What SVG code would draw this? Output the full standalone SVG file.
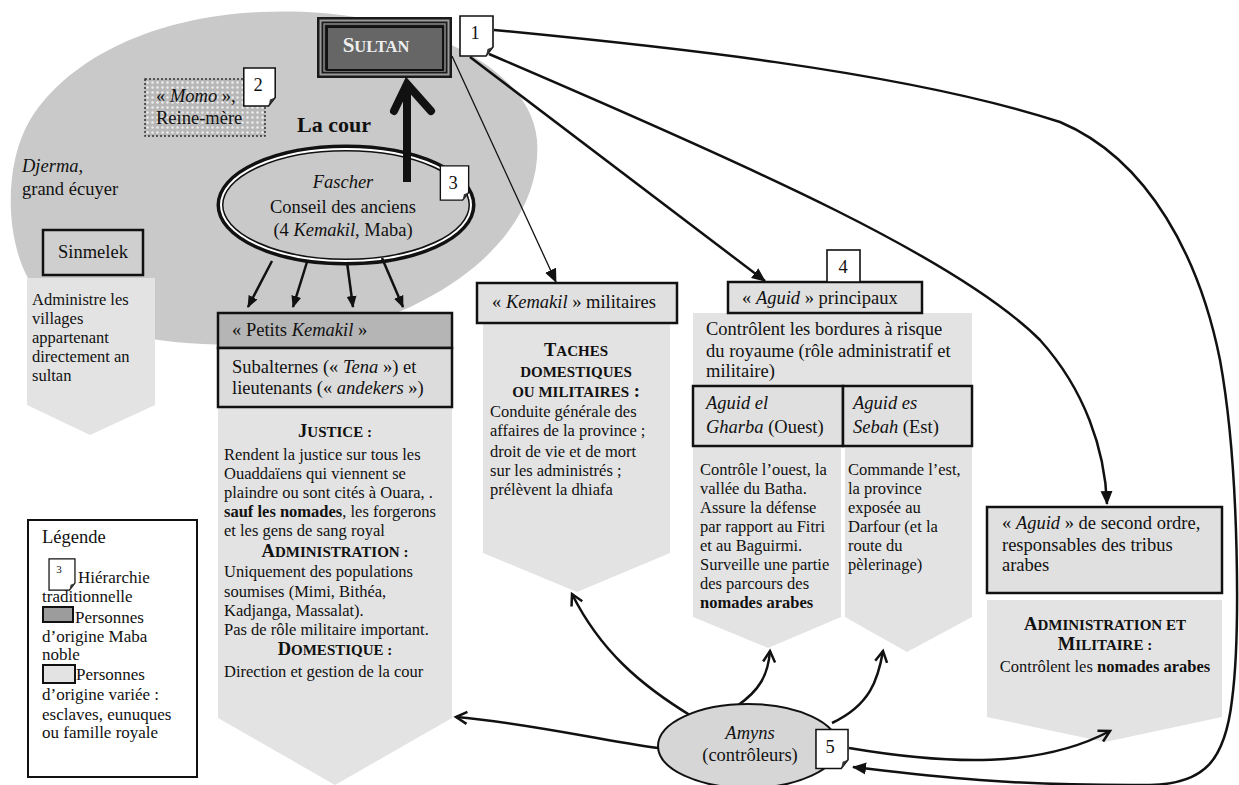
<svg xmlns="http://www.w3.org/2000/svg" xmlns:xlink="http://www.w3.org/1999/xlink" width="1239" height="785" viewBox="0 0 1239 785" font-family="'Liberation Serif', Tinos, 'Times New Roman', serif">
<defs>
<style>
text{font-family:'Liberation Serif',Tinos,'Times New Roman',serif;fill:#111;}
.t15{font-size:16.5px;}
.t16{font-size:18px;}
.t17{font-size:18.5px;}
.lg{font-size:17px;}
.it{font-style:italic;}
.b{font-weight:bold;}
.mid{text-anchor:middle;}
.cap{font-size:18.5px;font-weight:bold;}
.sc{font-size:15px;}
.box{stroke:#111;stroke-width:2.5;}
.chev{fill:#e3e3e3;}
.conn{fill:none;stroke:#111;}
</style>
<pattern id="dots" width="5" height="5" patternUnits="userSpaceOnUse">
<rect width="5" height="5" fill="#b8b8b8"/>
<circle cx="2.5" cy="2.5" r="1.2" fill="#efefef"/>
</pattern>
<marker id="tri" viewBox="0 0 14 14" refX="13" refY="7" markerWidth="14" markerHeight="14" markerUnits="userSpaceOnUse" orient="auto">
<path d="M0,1 L14,7 L0,13 Z" fill="#111"/>
</marker>
<marker id="tris" viewBox="0 0 12 12" refX="11" refY="6" markerWidth="12" markerHeight="12" markerUnits="userSpaceOnUse" orient="auto">
<path d="M0,1 L12,6 L0,11 Z" fill="#111"/>
</marker>
<marker id="vee" viewBox="0 0 16 16" refX="13" refY="8" markerWidth="16" markerHeight="16" markerUnits="userSpaceOnUse" orient="auto">
<path d="M2,2 L13,8 L2,14" fill="none" stroke="#111" stroke-width="2.5" stroke-linejoin="miter"/>
</marker>
<symbol id="note" viewBox="0 0 35 42">
<path d="M1,1 H34 V32 L27,41 H1 Z" fill="#fff" stroke="#111" stroke-width="1.6"/>
<path d="M27,41 L28.5,34 L34,32 Z" fill="#333"/>
</symbol>
</defs>

<rect width="1239" height="785" fill="#fff"/>

<g id="court">
<path d="M260,12 C400,5 530,60 537,140 C543,220 470,300 330,335 C250,352 110,350 45,300 C5,265 0,170 30,120 C70,55 160,16 260,12 Z" fill="#c9c9c9"/>
<text class="b" x="297" y="132" style="font-size:22px">La cour</text>
</g>

<g id="djerma">
<text class="t17" x="22" y="172"><tspan class="it">Djerma</tspan>,</text>
<text class="t17" x="22" y="195">grand écuyer</text>
</g>

<g id="momo">
<rect x="145" y="79" width="120" height="57" fill="url(#dots)" stroke="#333" stroke-width="1.5" stroke-dasharray="2,2"/>
<text class="t17" x="156" y="102">« <tspan class="it">Momo</tspan> »,</text>
<text class="t17" x="156" y="124">Reine-mère</text>
</g>

<g id="sinmelek">
<path class="chev" d="M27,278 H155 V405 L90,435 L27,405 Z"/>
<rect class="box" x="43" y="230" width="100" height="45" fill="#cfcfcf"/>
<text class="t17 mid" x="93" y="258">Sinmelek</text>
<text class="t15" x="32" y="305">Administre les</text>
<text class="t15" x="32" y="324">villages</text>
<text class="t15" x="32" y="343">appartenant</text>
<text class="t15" x="32" y="362">directement an</text>
<text class="t15" x="32" y="381">sultan</text>
</g>

<g id="fascher">
<ellipse cx="346" cy="205" rx="126" ry="57" fill="#c9c9c9" stroke="#111" stroke-width="7"/>
<ellipse cx="346" cy="205" rx="125" ry="56" fill="none" stroke="#fff" stroke-width="2"/>
<text class="t17 it mid" x="343" y="188">Fascher</text>
<text class="t17 mid" x="343" y="213">Conseil des anciens</text>
<text class="t17 mid" x="343" y="236">(4 <tspan class="it">Kemakil</tspan>, Maba)</text>
</g>

<g id="sultan">
<rect x="317" y="17" width="135" height="61" fill="#1a1a1a"/>
<rect x="320.5" y="20.5" width="128" height="54" fill="none" stroke="#9a9a9a" stroke-width="2"/>
<rect x="324" y="24" width="121" height="47" fill="none" stroke="#888" stroke-width="1.5"/>
<rect x="327" y="27" width="116" height="43" fill="#666" stroke="#111" stroke-width="2"/>
<text class="b mid" x="376" y="52" style="fill:#eee;font-size:21px">S<tspan style="font-size:16.5px">ULTAN</tspan></text>
</g>

<g id="petits-kemakil">
<path class="chev" d="M218,407 H452 V718 L335,785 L218,718 Z"/>
<rect class="box" x="218" y="313" width="234" height="35" fill="#b5b5b5"/>
<rect class="box" x="218" y="348" width="234" height="59" fill="#dcdcdc"/>
<text class="t17" x="232" y="336">« Petits <tspan class="it">Kemakil</tspan> »</text>
<text class="t17" x="232" y="373">Subalternes (« <tspan class="it">Tena</tspan> ») et</text>
<text class="t17" x="232" y="394">lieutenants (« <tspan class="it">andekers</tspan> »)</text>
<text class="cap mid" x="335" y="437">J<tspan class="sc">USTICE :</tspan></text>
<text class="t15" x="224" y="460">Rendent la justice sur tous les</text>
<text class="t15" x="224" y="479">Ouaddaïens qui viennent se</text>
<text class="t15" x="224" y="498">plaindre ou sont cités à Ouara, .</text>
<text class="t15" x="224" y="517"><tspan class="b">sauf les nomades</tspan>, les forgerons</text>
<text class="t15" x="224" y="536">et les gens de sang royal</text>
<text class="cap mid" x="335" y="557">A<tspan class="sc">DMINISTRATION :</tspan></text>
<text class="t15" x="224" y="577">Uniquement des populations</text>
<text class="t15" x="224" y="597">soumises (Mimi, Bithéa,</text>
<text class="t15" x="224" y="616">Kadjanga, Massalat).</text>
<text class="t15" x="224" y="635">Pas de rôle militaire important.</text>
<text class="cap mid" x="335" y="655">D<tspan class="sc">OMESTIQUE :</tspan></text>
<text class="t15" x="224" y="677">Direction et gestion de la cour</text>
</g>

<g id="legend">
<rect x="28" y="520" width="169" height="257" fill="#fff" stroke="#111" stroke-width="2"/>
<text class="t17" x="42" y="543">Légende</text>
<use href="#note" x="47" y="558" width="30" height="33"/>
<text class="mid" x="59" y="573" style="font-size:11px">3</text>
<text class="lg" x="78" y="583">Hiérarchie</text>
<text class="lg" x="42" y="602">traditionnelle</text>
<rect x="43" y="607" width="30" height="15" fill="#9c9c9c" stroke="#111" stroke-width="2"/>
<text class="lg" x="75" y="623">Personnes</text>
<text class="lg" x="42" y="642">d’origine Maba</text>
<text class="lg" x="42" y="660">noble</text>
<rect x="43" y="665" width="32" height="18" fill="#e3e3e3" stroke="#111" stroke-width="2"/>
<text class="lg" x="76" y="680">Personnes</text>
<text class="lg" x="42" y="700">d’origine variée :</text>
<text class="lg" x="42" y="720">esclaves, eunuques</text>
<text class="lg" x="42" y="738">ou famille royale</text>
</g>

<g id="kemakil-militaires">
<path class="chev" d="M483,323 H670 V553 L577,592 L483,553 Z"/>
<rect class="box" x="477" y="283" width="200" height="40" fill="#e0e0e0"/>
<text class="t17" x="492" y="308">« <tspan class="it">Kemakil</tspan> » militaires</text>
<text class="cap mid" x="576" y="356">T<tspan class="sc">ACHES</tspan></text>
<text class="b mid sc" x="576" y="377">DOMESTIQUES</text>
<text class="b mid sc" x="576" y="397">OU MILITAIRES<tspan style="font-size:18.5px"> :</tspan></text>
<text class="t15" x="490" y="417">Conduite générale des</text>
<text class="t15" x="490" y="436">affaires de la province ;</text>
<text class="t15" x="490" y="457">droit de vie et de mort</text>
<text class="t15" x="490" y="476">sur les administrés ;</text>
<text class="t15" x="490" y="495">prélèvent la dhiafa</text>
</g>

<g id="aguid-principaux">
<rect class="chev" x="693" y="313" width="279" height="73"/>
<rect class="box" x="728" y="282" width="194" height="31" fill="#e0e0e0"/>
<text class="t17" x="742" y="304">« <tspan class="it">Aguid</tspan> » principaux</text>
<text class="t17" x="706" y="335">Contrôlent les bordures à risque</text>
<text class="t17" x="706" y="357">du royaume (rôle administratif et</text>
<text class="t17" x="706" y="377">militaire)</text>
</g>

<g id="aguid-gharba">
<path class="chev" d="M693,446 H841 V617 L768,648 L693,617 Z"/>
<rect class="box" x="693" y="386" width="150" height="60" fill="#e0e0e0"/>
<text class="t17 it" x="706" y="409">Aguid el</text>
<text class="t17" x="706" y="433"><tspan class="it">Gharba</tspan> (Ouest)</text>
<text class="t15" x="700" y="475">Contrôle l’ouest, la</text>
<text class="t15" x="700" y="494">vallée du Batha.</text>
<text class="t15" x="700" y="513">Assure la défense</text>
<text class="t15" x="700" y="532">par rapport au Fitri</text>
<text class="t15" x="700" y="551">et au Baguirmi.</text>
<text class="t15" x="700" y="570">Surveille une partie</text>
<text class="t15" x="700" y="589">des parcours des</text>
<text class="t15 b" x="700" y="608">nomades arabes</text>
</g>

<g id="aguid-sebah">
<path class="chev" d="M845,446 H972 V617 L907,652 L845,617 Z"/>
<rect class="box" x="843" y="386" width="129" height="60" fill="#e0e0e0"/>
<text class="t17 it" x="853" y="409">Aguid es</text>
<text class="t17" x="853" y="433"><tspan class="it">Sebah</tspan> (Est)</text>
<text class="t15" x="848" y="475">Commande l’est,</text>
<text class="t15" x="848" y="494">la province</text>
<text class="t15" x="848" y="513">exposée au</text>
<text class="t15" x="848" y="532">Darfour (et la</text>
<text class="t15" x="848" y="551">route du</text>
<text class="t15" x="848" y="570">pèlerinage)</text>
</g>

<g id="aguid-second">
<path class="chev" d="M987,600 H1222 V717 L1105,742 L987,717 Z"/>
<rect class="box" x="987" y="507" width="235" height="86" fill="#e0e0e0"/>
<text class="t17" x="1002" y="529">« <tspan class="it">Aguid</tspan> » de second ordre,</text>
<text class="t17" x="1002" y="551">responsables des tribus</text>
<text class="t17" x="1002" y="571">arabes</text>
<text class="cap mid" x="1105" y="630">A<tspan class="sc">DMINISTRATION ET</tspan></text>
<text class="cap mid" x="1105" y="650">M<tspan class="sc">ILITAIRE :</tspan></text>
<text class="t15 mid" x="1105" y="672">Contrôlent les <tspan class="b">nomades arabes</tspan></text>
</g>

<g id="connectors">
<path class="conn" d="M407,182 V86" stroke-width="8"/>
<path class="conn" d="M394,111 L407,84 L431,111" stroke-width="8" stroke-linecap="round" stroke-linejoin="miter"/>
<path class="conn" d="M272,261 L248,307" stroke-width="2.5" marker-end="url(#tris)"/>
<path class="conn" d="M307,262 L293,307" stroke-width="2.5" marker-end="url(#tris)"/>
<path class="conn" d="M347,262 L353,307" stroke-width="2.5" marker-end="url(#tris)"/>
<path class="conn" d="M382,258 L403,307" stroke-width="2.5" marker-end="url(#tris)"/>
<path class="conn" d="M452,56 L556,282" stroke-width="1.3" marker-end="url(#tri)"/>
<path class="conn" d="M470,57 L765,281" stroke-width="2.5" marker-end="url(#tri)"/>
<path class="conn" d="M489,54 C760,170 960,260 1040,340 C1085,390 1105,450 1107,504" stroke-width="2.5" marker-end="url(#tri)"/>
<path class="conn" d="M494,30 C650,45 900,70 1060,122 C1150,160 1200,260 1220,360 C1240,470 1240,640 1232,700 C1225,760 1205,784 1150,785 C1000,786 920,775 853,767" stroke-width="2.5" marker-end="url(#tri)"/>
<path class="conn" d="M658,748 C600,740 520,722 456,717" stroke-width="2.5" marker-end="url(#vee)"/>
<path class="conn" d="M693,717 C640,685 600,650 572,594" stroke-width="2.5" marker-end="url(#vee)"/>
<path class="conn" d="M737,706 C760,690 768,675 770,651" stroke-width="2.5" marker-end="url(#vee)"/>
<path class="conn" d="M832,723 C870,705 878,680 883,651" stroke-width="2.5" marker-end="url(#vee)"/>
<path class="conn" d="M849,748 C950,765 1040,768 1110,731" stroke-width="2.5" marker-end="url(#vee)"/>
</g>

<g id="amyns">
<ellipse cx="748" cy="746" rx="90" ry="42" fill="#d6d6d6" stroke="#111" stroke-width="2"/>
<text class="t17 it mid" x="750" y="739">Amyns</text>
<text class="t17 mid" x="750" y="761">(contrôleurs)</text>
</g>

<g id="note-1">
<use href="#note" x="459" y="15" width="35" height="42"/>
<text class="t17 mid" x="475" y="39">1</text>
</g>
<g id="note-2">
<use href="#note" x="242" y="67" width="35" height="40"/>
<text class="t17 mid" x="258" y="91">2</text>
</g>
<g id="note-3">
<use href="#note" x="437" y="165" width="35" height="36"/>
<text class="t17 mid" x="453" y="189">3</text>
</g>
<g id="note-4">
<rect x="827" y="250" width="33" height="32" fill="#fff" stroke="#111" stroke-width="1.6"/>
<text class="t17 mid" x="843" y="273">4</text>
</g>
<g id="note-5">
<use href="#note" x="815" y="728" width="34" height="42"/>
<text class="t17 mid" x="830" y="753">5</text>
</g>
</svg>
